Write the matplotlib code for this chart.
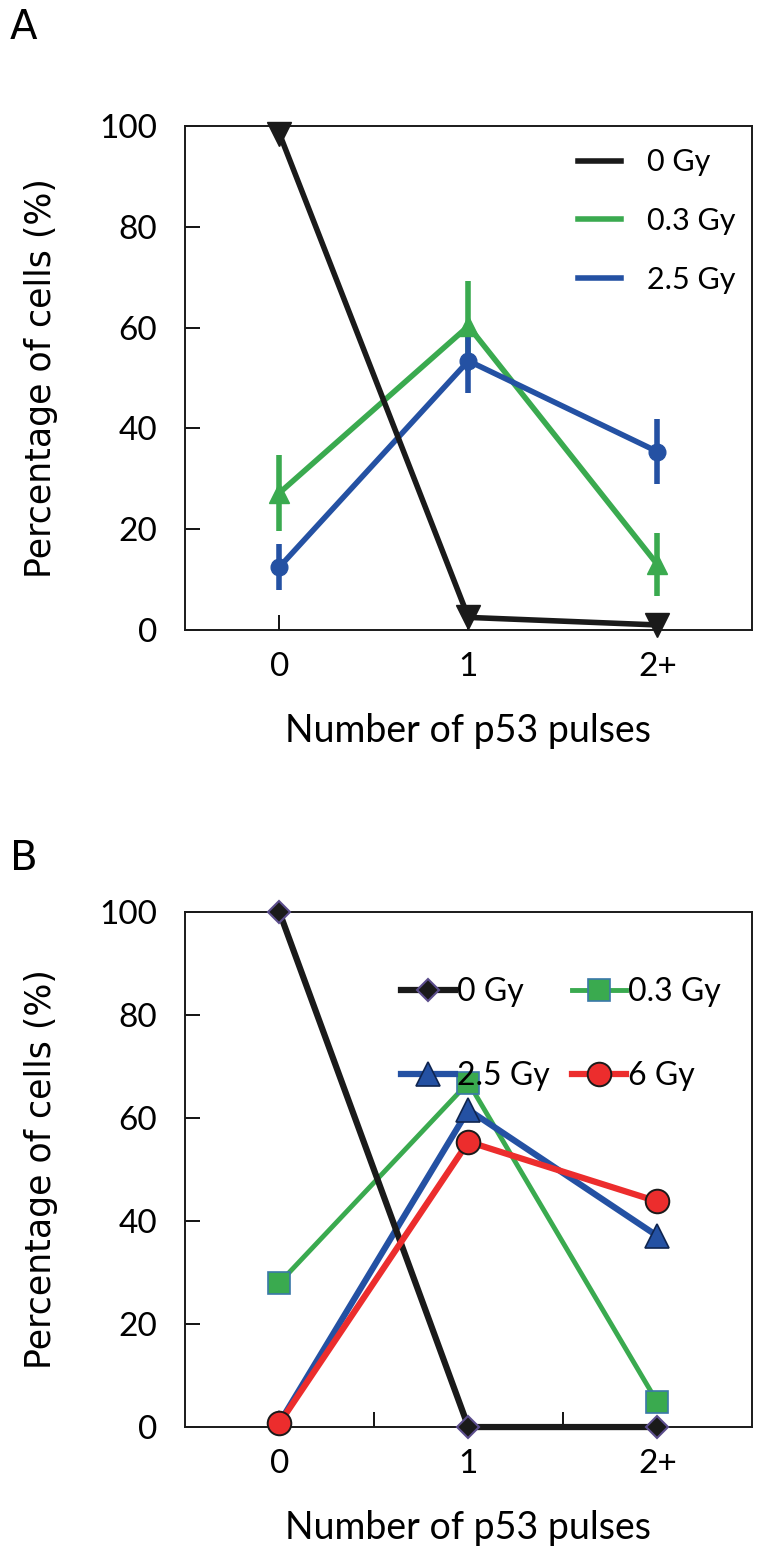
import numpy as np
import matplotlib.pyplot as plt
from matplotlib.lines import Line2D

categories = ['0', '1', '2+']

# panel A (mean +/- error)
a_0gy = [98.5, 2.5, 1.0]
a_03gy = [27.2, 60.3, 13.0]
a_03gy_err = [7.6, 8.9, 6.3]
a_25gy = [12.5, 53.4, 35.4]
a_25gy_err = [4.6, 6.3, 6.4]

# panel B
b_0gy = [100, 0, 0]
b_03gy = [28.0, 66.9, 4.8]
b_25gy = [0.8, 61.6, 37.1]
b_6gy = [0.7, 55.4, 43.8]

BLACK = '#1a1a1a'
GREEN = '#3aaa4f'
BLUE = '#2451a3'
RED = '#ec2d2d'

TICKFONT = 'Lato'
LABFONT = 'DejaVu Sans'

fig = plt.figure(figsize=(7.61, 15.54), dpi=100)
x = np.arange(len(categories))


def style_axes(ax, xticks):
    ax.set_xlim(-0.5, 2.5)
    ax.set_ylim(0, 100)
    ax.set_yticks([0, 20, 40, 60, 80, 100])
    ax.set_xticks(xticks)
    ax.tick_params(axis='both', direction='in', length=11, width=1.3, labelsize=24)
    ax.tick_params(axis='y', pad=20)
    ax.tick_params(axis='x', pad=16)
    for lab in ax.get_yticklabels() + ax.get_xticklabels():
        lab.set_fontfamily(TICKFONT)
    for s in ax.spines.values():
        s.set_linewidth(1.4)
        s.set_color(BLACK)
    ax.set_ylabel('Percentage of cells (%)', fontsize=25, family=LABFONT, labelpad=30)
    ax.set_xlabel('Number of p53 pulses', fontsize=27, family=TICKFONT, labelpad=22)


# ---- panel A ----
axA = fig.add_axes([0.243, 0.5946, 0.745, 0.3243])
axA.plot(x, a_0gy, color=BLACK, lw=4, marker='v', ms=17, zorder=3, clip_on=False)
axA.errorbar(x, a_03gy, yerr=a_03gy_err, color=GREEN, lw=4, elinewidth=4,
             marker='^', ms=14, capsize=0, zorder=2)
axA.errorbar(x, a_25gy, yerr=a_25gy_err, color=BLUE, lw=4, elinewidth=4,
             marker='o', ms=12, capsize=0, zorder=2)
style_axes(axA, x)
axA.set_xticklabels(categories)
handlesA = [Line2D([], [], color=c, lw=4) for c in (BLACK, GREEN, BLUE)]
axA.legend(handlesA, ['0 Gy', '0.3 Gy', '2.5 Gy'], loc='upper right', frameon=False,
           prop={'family': TICKFONT, 'size': 22}, handlelength=1.4, labelspacing=1.0,
           handletextpad=0.85, bbox_to_anchor=(1.02, 1.01))
fig.text(0.013, 0.975, 'A', fontsize=29, family=LABFONT)

# ---- panel B ----
axB = fig.add_axes([0.243, 0.0817, 0.745, 0.3314])
l0, = axB.plot(x, b_0gy, color=BLACK, lw=4.5, marker='D', ms=11, mfc=BLACK,
               mec='#5b4d8c', mew=1.5, zorder=3, clip_on=False)
l1, = axB.plot(x, b_03gy, color=GREEN, lw=3.5, marker='s', ms=16, mfc=GREEN,
               mec='#3a78a8', mew=1.2, zorder=2)
l2, = axB.plot(x, b_25gy, color=BLUE, lw=4.5, marker='^', ms=17, mfc=BLUE,
               mec='#0f2550', mew=1.2, zorder=2)
l3, = axB.plot(x, b_6gy, color=RED, lw=4.5, marker='o', ms=17, mfc=RED,
               mec=BLACK, mew=1.4, zorder=4, clip_on=False)
style_axes(axB, [0.5, 1.5])
axB.set_xticklabels([])
axB.set_xticks(x, minor=True)
axB.set_xticklabels(categories, minor=True)
axB.tick_params(axis='x', which='minor', length=0, pad=16, labelsize=24)
for lab in axB.get_xticklabels(minor=True):
    lab.set_fontfamily(TICKFONT)
axB.legend([l0, l2, l1, l3], ['0 Gy', '2.5 Gy', '0.3 Gy', '6 Gy'], ncol=2,
           loc='upper right', frameon=False, prop={'family': TICKFONT, 'size': 23},
           handlelength=1.7, handletextpad=0.05, columnspacing=0.7, labelspacing=1.7,
           bbox_to_anchor=(0.995, 0.93))
fig.text(0.013, 0.44, 'B', fontsize=29, family=LABFONT)

fig.savefig('out.png', dpi=100)
